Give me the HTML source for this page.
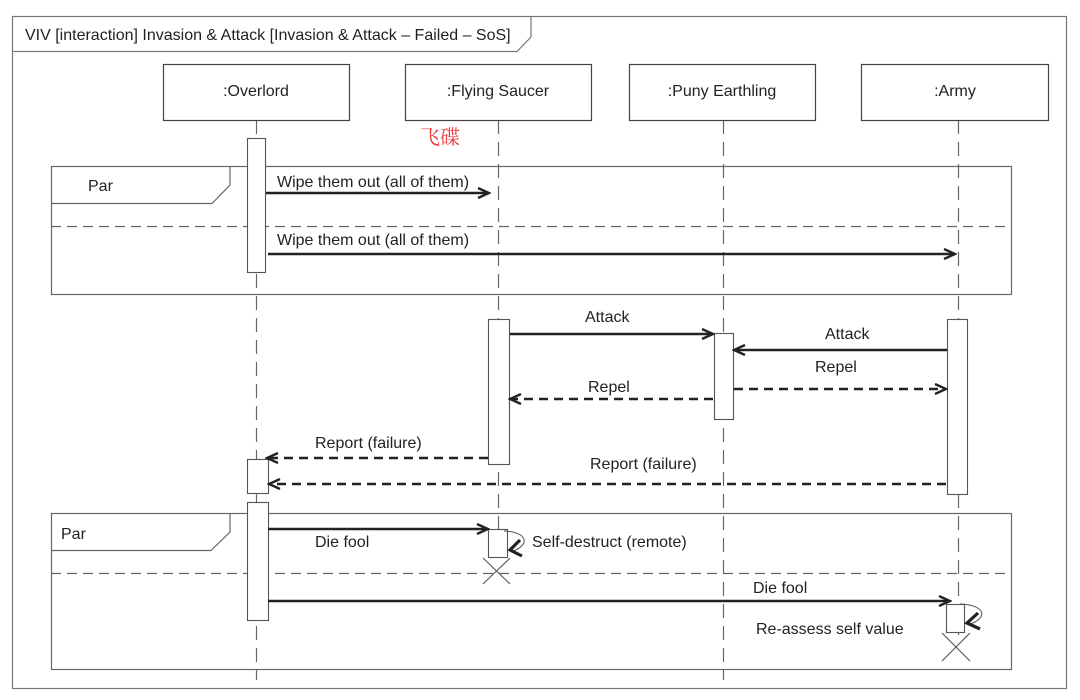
<!DOCTYPE html>
<html><head><meta charset="utf-8"><style>
html,body{margin:0;padding:0;background:#fff;}
svg{display:block;}
text{font-family:"Liberation Sans",Arial,sans-serif;font-size:16px;fill:#222;}
</style></head><body>
<svg width="1080" height="700" viewBox="0 0 1080 700" xmlns="http://www.w3.org/2000/svg">
<defs>
<marker id="a" markerWidth="14" markerHeight="12" refX="12" refY="6" orient="auto" markerUnits="userSpaceOnUse">
<path d="M1,1 L12,6 L1,11" fill="none" stroke="#222" stroke-width="2.4"/>
</marker>
</defs>
<g fill="none" stroke="#777" stroke-width="1.2">
<rect x="12.5" y="16.5" width="1054" height="672"/>
<path d="M12.5,51.5 H517 L531,37 V16.5"/>
</g>
<text x="25" y="40">VIV [interaction] Invasion &amp; Attack [Invasion &amp; Attack – Failed – SoS]</text>

<!-- lifelines -->
<g stroke="#666" stroke-width="1.2" stroke-dasharray="14,8" fill="none">
<line x1="256.5" y1="120" x2="256.5" y2="680"/>
<line x1="498.5" y1="120" x2="498.5" y2="560"/>
<line x1="723.5" y1="120" x2="723.5" y2="680"/>
<line x1="958.5" y1="120" x2="958.5" y2="635"/>
</g>
<g fill="#fff" stroke="#444" stroke-width="1.2">
<rect x="163.5" y="64.5" width="186" height="56"/>
<rect x="405.5" y="64.5" width="186" height="56"/>
<rect x="629.5" y="64.5" width="186" height="56"/>
<rect x="861.5" y="64.5" width="187" height="56"/>
</g>
<text x="256" y="96" text-anchor="middle">:Overlord</text>
<text x="498" y="96" text-anchor="middle">:Flying Saucer</text>
<text x="722" y="96" text-anchor="middle">:Puny Earthling</text>
<text x="955" y="96" text-anchor="middle">:Army</text>
<text x="420" y="144" style="fill:#f03c3c;font-size:20px;font-family:'Noto Serif CJK SC',serif">飞碟</text>

<!-- Par frames -->
<g fill="none" stroke="#666" stroke-width="1.2">
<rect x="51.5" y="166.5" width="960" height="128"/>
<path d="M51.5,203.5 H212 L230,185 V166.5"/>
<line x1="51" y1="226.5" x2="1011" y2="226.5" stroke-dasharray="10,6"/>
<rect x="51.5" y="513.5" width="960" height="156"/>
<path d="M51.5,550.5 H211 L230,532 V513.5"/>
<line x1="51" y1="573.5" x2="1011" y2="573.5" stroke-dasharray="10,6"/>
</g>
<text x="88" y="191">Par</text>
<text x="61" y="539">Par</text>

<!-- activations -->
<g fill="#fff" stroke="#555" stroke-width="1.1">
<rect x="247.5" y="138.5" width="18" height="134"/>
<rect x="488.5" y="319.5" width="21" height="145"/>
<rect x="714.5" y="333.5" width="19" height="86"/>
<rect x="947.5" y="319.5" width="20" height="175"/>
<rect x="247.5" y="459.5" width="21" height="34"/>
<rect x="247.5" y="502.5" width="21" height="118"/>
<rect x="488.5" y="529.5" width="19" height="28"/>
<rect x="946.5" y="604.5" width="18" height="28"/>
</g>

<!-- messages -->
<g stroke="#222" stroke-width="2.4" fill="none">
<line x1="266" y1="193" x2="489" y2="193" marker-end="url(#a)"/>
<line x1="268" y1="254" x2="955" y2="254" marker-end="url(#a)"/>
<line x1="510" y1="334" x2="713" y2="334" marker-end="url(#a)"/>
<line x1="947" y1="350" x2="734" y2="350" marker-end="url(#a)"/>
<line x1="734" y1="389" x2="946" y2="389" marker-end="url(#a)" stroke-dasharray="9,6"/>
<line x1="713" y1="399" x2="510" y2="399" marker-end="url(#a)" stroke-dasharray="9,6"/>
<line x1="488" y1="458" x2="267" y2="458" marker-end="url(#a)" stroke-dasharray="9,6"/>
<line x1="946" y1="484" x2="269" y2="484" marker-end="url(#a)" stroke-dasharray="9,6"/>
<line x1="268" y1="529" x2="488" y2="529" marker-end="url(#a)"/>
<line x1="268" y1="601" x2="950" y2="601" marker-end="url(#a)"/>
</g>
<!-- self arrows -->
<g fill="none" stroke="#555" stroke-width="1">
<path d="M504,531 C528,532 530,545 513,551"/>
<path d="M960,604 C986,605 988,618 970,624"/>
</g>
<g fill="none" stroke="#222" stroke-width="3.2">
<path d="M520,540 L510,550 L522,556"/>
<path d="M978,613 L967,623 L980,629"/>
</g>
<!-- destroy X -->
<g stroke="#555" stroke-width="1.1">
<line x1="483" y1="558" x2="510" y2="584"/><line x1="510" y1="558" x2="483" y2="584"/>
<line x1="942" y1="633" x2="970" y2="661"/><line x1="970" y1="633" x2="942" y2="661"/>
</g>

<text x="277" y="187">Wipe them out (all of them)</text>
<text x="277" y="245">Wipe them out (all of them)</text>
<text x="585" y="322">Attack</text>
<text x="825" y="339">Attack</text>
<text x="815" y="372">Repel</text>
<text x="588" y="392">Repel</text>
<text x="315" y="448">Report (failure)</text>
<text x="590" y="469">Report (failure)</text>
<text x="315" y="547">Die fool</text>
<text x="532" y="547">Self-destruct (remote)</text>
<text x="753" y="593">Die fool</text>
<text x="756" y="634">Re-assess self value</text>
</svg>
</body></html>
